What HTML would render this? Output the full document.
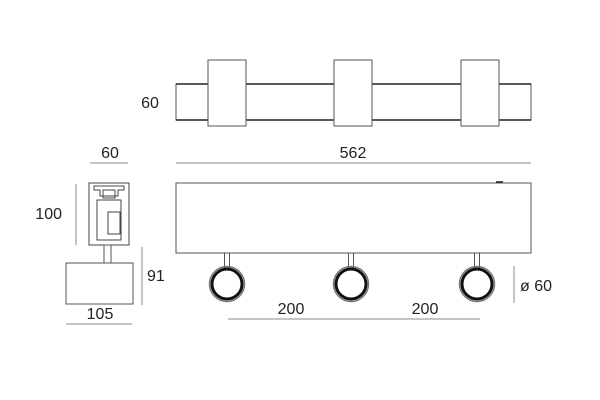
<!DOCTYPE html>
<html><head><style>body{margin:0;background:#fff}svg{display:block}</style></head><body>
<svg width="600" height="400" viewBox="0 0 600 400" xmlns="http://www.w3.org/2000/svg" font-family="Liberation Sans, sans-serif" font-size="16" fill="#222">
<g stroke="#555" fill="none" stroke-width="1">
<rect x="176" y="84" width="355" height="36" fill="#fff"/>
<line x1="176" y1="84" x2="531" y2="84" stroke="#222" stroke-width="1.5"/>
<line x1="176" y1="120" x2="531" y2="120" stroke="#222" stroke-width="1.5"/>
<rect x="208" y="60" width="38" height="66" fill="#fff"/>
<rect x="334" y="60" width="38" height="66" fill="#fff"/>
<rect x="461" y="60" width="38" height="66" fill="#fff"/>
<line x1="176" y1="163" x2="531" y2="163" stroke="#888"/>
<line x1="90" y1="163" x2="128" y2="163" stroke="#888"/>
<line x1="76" y1="184" x2="76" y2="245" stroke="#888"/>
<line x1="142" y1="247" x2="142" y2="305" stroke="#888"/>
<line x1="66" y1="324" x2="132" y2="324" stroke="#888"/>
<line x1="228" y1="319" x2="480" y2="319" stroke="#888"/>
<line x1="514" y1="266" x2="514" y2="303" stroke="#888"/>
<rect x="176" y="183" width="355" height="70"/>
<line x1="496" y1="182" x2="503" y2="182" stroke="#222" stroke-width="1.5"/>
<g fill="#fff">
<rect x="224.5" y="253" width="5" height="15"/><rect x="348.5" y="253" width="5" height="15"/><rect x="474.5" y="253" width="5" height="15"/>
</g>
<g stroke="#111">
<circle cx="227" cy="284" r="17.5" stroke="#777" stroke-width="1.5"/><circle cx="227" cy="284" r="15" stroke-width="3"/>
<circle cx="351" cy="284" r="17.5" stroke="#777" stroke-width="1.5"/><circle cx="351" cy="284" r="15" stroke-width="3"/>
<circle cx="477" cy="284" r="17.5" stroke="#777" stroke-width="1.5"/><circle cx="477" cy="284" r="15" stroke-width="3"/>
</g>
<rect x="89" y="183" width="40" height="62" stroke="#444"/>
<path d="M94 186 h30 v4 h-6 v6 h-18 v-6 h-6z M97 200 h24 v40 h-24z" stroke="#444"/>
<rect x="103" y="190" width="12" height="8" stroke="#444"/>
<rect x="108" y="212" width="12" height="22" stroke="#444"/>
<rect x="104" y="245" width="7" height="19" fill="#fff"/>
<rect x="66" y="263" width="67" height="41" fill="#fff"/>
</g>
<text x="150" y="108" text-anchor="middle">60</text>
<text x="353" y="158" text-anchor="middle">562</text>
<text x="110" y="158" text-anchor="middle">60</text>
<text x="62" y="219" text-anchor="end">100</text>
<text x="147" y="281">91</text>
<text x="100" y="319" text-anchor="middle">105</text>
<text x="291" y="314" text-anchor="middle">200</text>
<text x="425" y="314" text-anchor="middle">200</text>
<text x="520" y="291">ø 60</text>
</svg>
</body></html>
